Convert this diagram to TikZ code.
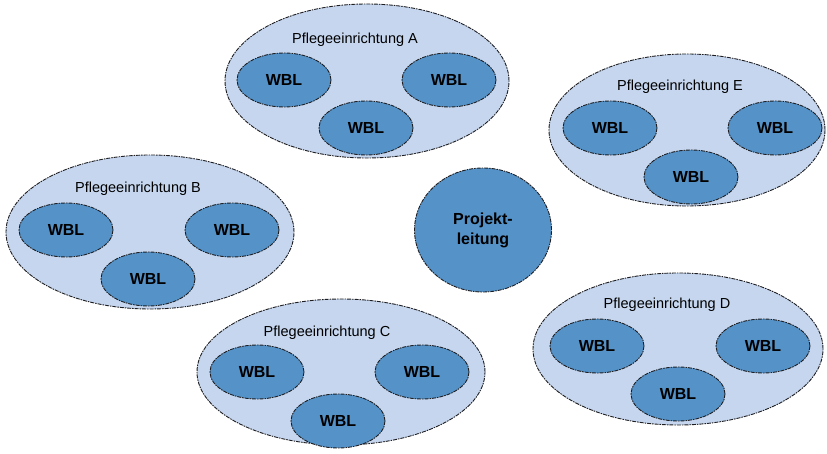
\documentclass[tikz,border=0pt]{standalone}
\usepackage{fontspec}
\setmainfont{Liberation Sans}
\usetikzlibrary{shapes.geometric}
\definecolor{hausfill}{RGB}{197,214,238}
\definecolor{wblfill}{RGB}{84,146,200}
\definecolor{rand}{RGB}{30,30,34}
\tikzset{
  outline/.style={draw=rand, line width=0.9pt, dash pattern=on 4pt off 1pt on 1.5pt off 1pt},
  haus/.style={ellipse, outline, fill=hausfill, inner sep=0pt},
  wbl/.style={ellipse, outline, fill=wblfill, inner sep=0pt,
    minimum width=94pt, minimum height=54pt,
    font=\fontsize{16}{18}\selectfont\bfseries},
  hauslabel/.style={font=\fontsize{14.5}{16}\selectfont, inner sep=0pt},
  zentrum/.style={ellipse, outline, fill=wblfill, inner sep=0pt,
    minimum width=137pt, minimum height=124pt, align=center,
    font=\fontsize{16}{20}\selectfont\bfseries}
}
\begin{document}
\begin{tikzpicture}[x=1pt, y=-1pt]
\useasboundingbox (0,0) rectangle (827,454);

% Pflegeeinrichtung A
\node[haus, minimum width=284pt, minimum height=154pt] (A) at (367,81) {};
\node[hauslabel] (Alab) at (355,40) {Pflegeeinrichtung A};
\node[wbl] (A1) at (284,80) {WBL};
\node[wbl] (A2) at (449,80) {WBL};
\node[wbl] (A3) at (366,128) {WBL};

% Pflegeeinrichtung B
\node[haus, minimum width=288pt, minimum height=154pt] (B) at (150,232) {};
\node[hauslabel] (Blab) at (138,189) {Pflegeeinrichtung B};
\node[wbl] (B1) at (66,230) {WBL};
\node[wbl] (B2) at (232,230) {WBL};
\node[wbl] (B3) at (148,279) {WBL};

% Pflegeeinrichtung E
\node[haus, minimum width=276pt, minimum height=152pt] (E) at (687,130) {};
\node[hauslabel] (Elab) at (680,87) {Pflegeeinrichtung E};
\node[wbl] (E1) at (610,128) {WBL};
\node[wbl] (E2) at (775,128) {WBL};
\node[wbl] (E3) at (691,177) {WBL};

% Pflegeeinrichtung C
\node[haus, minimum width=288pt, minimum height=146pt] (C) at (341,372) {};
\node[hauslabel] (Clab) at (327,333) {Pflegeeinrichtung C};
\node[wbl] (C1) at (257,372) {WBL};
\node[wbl] (C2) at (422,372) {WBL};
\node[wbl] (C3) at (338,421) {WBL};

% Pflegeeinrichtung D
\node[haus, minimum width=290pt, minimum height=152pt] (D) at (678,349) {};
\node[hauslabel] (Dlab) at (667,305) {Pflegeeinrichtung D};
\node[wbl] (D1) at (597,346) {WBL};
\node[wbl] (D2) at (763,346) {WBL};
\node[wbl] (D3) at (678,394) {WBL};

% Projektleitung
\node[zentrum] (P) at (483,230) {Projekt-\\leitung};
\end{tikzpicture}
\end{document}
